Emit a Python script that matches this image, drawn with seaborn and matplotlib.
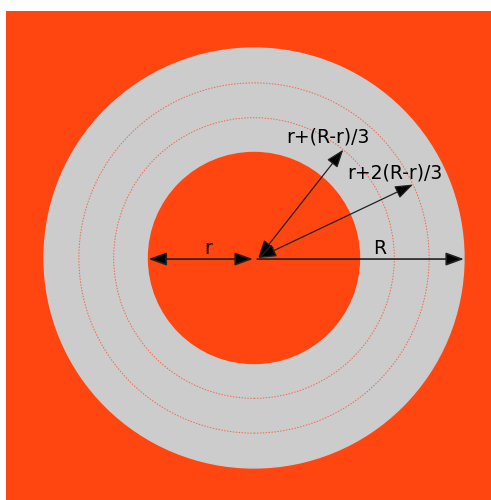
import numpy as np
import matplotlib
matplotlib.use("Agg")
import matplotlib.pyplot as plt
from matplotlib.patches import Circle, FancyArrowPatch
import seaborn as sns

# radii of the ring (inner r, outer R)
inner_r = 1.0
outer_R = 1.99
# guide circles at r+(R-r)/3 and r+2(R-r)/3
guide_fracs = [1 / 3, 2 / 3]
guide_labels = ["r+(R-r)/3", "r+2(R-r)/3"]
guide_angles = [50.5, 24.8]  # degrees

ORANGE = "#ff4510"
GREY = "#cccccc"
DOT = "#ee6a50"
INK = "#222222"

sns.set_style("white")
plt.rcParams["font.family"] = ["DejaVu Sans"]

W, H = 491, 500
cx, cy = 254, 258          # centre in pixels from the top-left
scale = 105.5              # pixels per unit
left_px, top_px = 6, 11    # edge of the orange panel

fig = plt.figure(figsize=(W / 100, H / 100), dpi=100, facecolor="white")
ax = fig.add_axes([left_px / W, 0, (W - left_px) / W, (H - top_px) / H])
ax.set_xlim((left_px - cx) / scale, (W - cx) / scale)
ax.set_ylim(-(H - cy) / scale, (cy - top_px) / scale)
ax.set_facecolor(ORANGE)
ax.set_axis_off()
ax.add_patch(plt.Rectangle((0, 0), 1, 1, transform=ax.transAxes, color=ORANGE, zorder=0))


def px(x, y):
    return (x - cx) / scale, (cy - y) / scale


# ring
ax.add_patch(Circle((0, 0), outer_R, color=GREY, zorder=1))
ax.add_patch(Circle((0, 0), inner_r, color=ORANGE, zorder=2))

# dotted guide circles
guide_radii = [inner_r + f * (outer_R - inner_r) for f in guide_fracs]
for rad in guide_radii:
    ax.add_patch(Circle((0, 0), rad, fill=False, ec=DOT, lw=0.7,
                        ls=(0, (1.5, 1.5)), zorder=3))

style_two = "<|-|>,head_length=0.55,head_width=0.2"
style_one = "-|>,head_length=0.55,head_width=0.2"

# r arrow (left of centre)
ax.add_patch(FancyArrowPatch((-inner_r, -0.01), (-0.01, -0.01), arrowstyle=style_two,
                             mutation_scale=20, color=INK, fc="black", lw=1.2,
                             shrinkA=0, shrinkB=0, zorder=5))
# R arrow (right of centre)
ax.add_patch(FancyArrowPatch((0.03, -0.01), (outer_R, -0.01), arrowstyle=style_one,
                             mutation_scale=20, color=INK, fc="black", lw=1.2,
                             shrinkA=0, shrinkB=0, zorder=5))

# diagonal arrows to guide circles
for rad, ang in zip(guide_radii, guide_angles):
    t = np.deg2rad(ang)
    ax.add_patch(FancyArrowPatch((0.04, 0.0), (rad * np.cos(t), rad * np.sin(t)),
                                 arrowstyle=style_two, mutation_scale=20,
                                 color=INK, fc="black", lw=0.9,
                                 shrinkA=0, shrinkB=0, zorder=5))

fs = 13.5
ax.text(*px(208, 249), "r", fontsize=fs, ha="center", va="center", color="black", zorder=6)
ax.text(*px(380, 249), "R", fontsize=fs, ha="center", va="center", color="black", zorder=6)
ax.text(*px(328, 137), guide_labels[0], fontsize=fs, ha="center", va="center", color="black", zorder=6)
ax.text(*px(395, 173), guide_labels[1], fontsize=fs, ha="center", va="center", color="black", zorder=6)

fig.savefig("out.png", dpi=100, facecolor="white")
